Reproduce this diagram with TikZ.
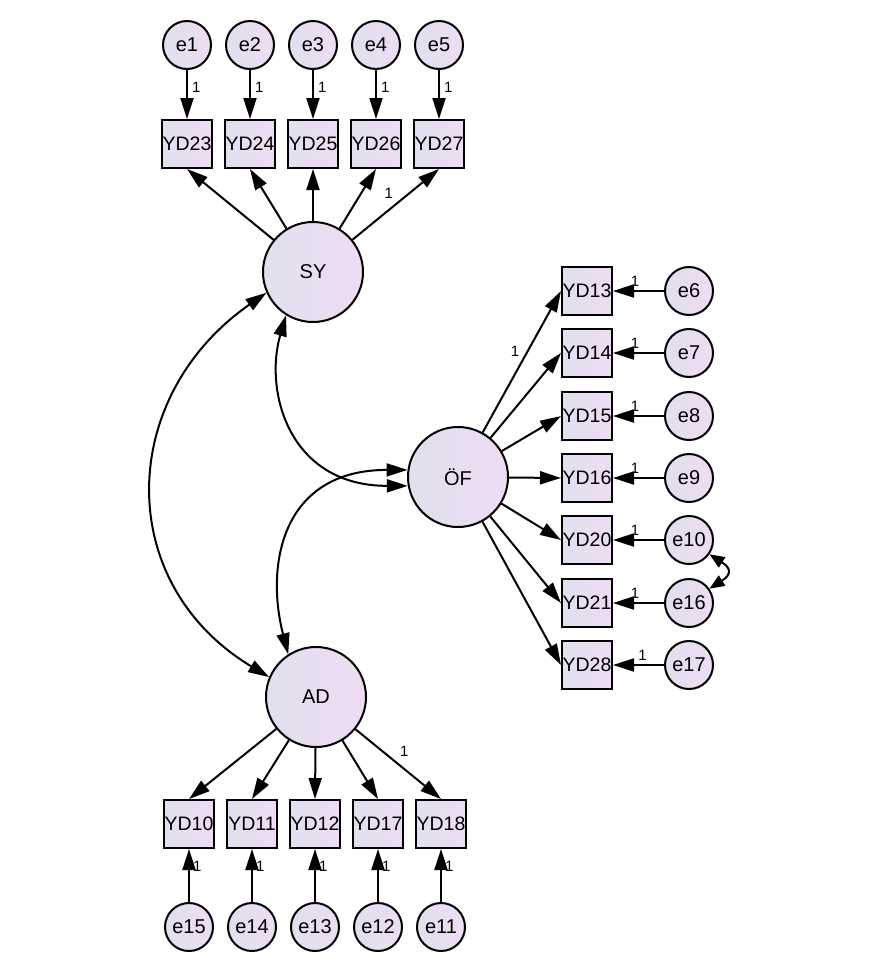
\documentclass[tikz,border=0pt]{standalone}
\usepackage{fontspec}
\setmainfont{Liberation Sans}
\usetikzlibrary{arrows.meta}
\definecolor{lavL}{RGB}{224,224,238}
\definecolor{lavR}{RGB}{238,220,243}
\tikzset{
  latent/.style={circle,draw,line width=2pt,minimum size=100pt,inner sep=0pt,left color=lavL,right color=lavR,font=\fontsize{20}{20}\selectfont},
  errvar/.style={circle,draw,line width=2pt,minimum size=48pt,inner sep=0pt,left color=lavL,right color=lavR,font=\fontsize{20}{20}\selectfont},
  indic/.style={rectangle,draw,line width=2pt,minimum width=50pt,minimum height=48pt,inner sep=0pt,left color=lavL,right color=lavR,font=\fontsize{19.5}{19.5}\selectfont},
  load/.style={line width=2pt,-{Triangle[length=21pt,width=13pt]}},
  cov/.style={line width=2pt,{Triangle[length=21pt,width=13pt]}-{Triangle[length=21pt,width=13pt]}},
  one/.style={font=\fontsize{15}{15}\selectfont,inner sep=1pt}
}
\begin{document}
\begin{tikzpicture}[x=1pt,y=-1pt]
      \useasboundingbox (0,0) rectangle (875,978);
      % latent factors
      \node[latent] (SY) at (313,272) {SY};
      \node[latent] (OF) at (458,477) {ÖF};
      \node[latent] (AD) at (316,697) {AD};
      % routine for SY items
      \node[indic] (YD23) at (187,144) {YD23};
      \node[indic] (YD24) at (250,144) {YD24};
      \node[indic] (YD25) at (313,144) {YD25};
      \node[indic] (YD26) at (376,144) {YD26};
      \node[indic] (YD27) at (439,144) {YD27};
      \node[errvar] (e1) at (187,45) {e1};
      \node[errvar] (e2) at (250,45) {e2};
      \node[errvar] (e3) at (313,45) {e3};
      \node[errvar] (e4) at (376,45) {e4};
      \node[errvar] (e5) at (439,45) {e5};
      % routine for OF items
      \node[indic] (YD13) at (587,291) {YD13};
      \node[indic] (YD14) at (587,353) {YD14};
      \node[indic] (YD15) at (587,416) {YD15};
      \node[indic] (YD16) at (587,478) {YD16};
      \node[indic] (YD20) at (587,540) {YD20};
      \node[indic] (YD21) at (587,603) {YD21};
      \node[indic] (YD28) at (587,665) {YD28};
      \node[errvar] (e6) at (689,291) {e6};
      \node[errvar] (e7) at (689,353) {e7};
      \node[errvar] (e8) at (689,416) {e8};
      \node[errvar] (e9) at (689,478) {e9};
      \node[errvar] (e10) at (689,540) {e10};
      \node[errvar] (e16) at (689,603) {e16};
      \node[errvar] (e17) at (689,665) {e17};
      % routine for AD items
      \node[indic] (YD10) at (189,824) {YD10};
      \node[indic] (YD11) at (252,824) {YD11};
      \node[indic] (YD12) at (315,824) {YD12};
      \node[indic] (YD17) at (378,824) {YD17};
      \node[indic] (YD18) at (441,824) {YD18};
      \node[errvar] (e15) at (189,927) {e15};
      \node[errvar] (e14) at (252,927) {e14};
      \node[errvar] (e13) at (315,927) {e13};
      \node[errvar] (e12) at (378,927) {e12};
      \node[errvar] (e11) at (441,927) {e11};
      % loadings
      \draw[load] (SY) -- (YD23.south);
      \draw[load] (SY) -- (YD24.south);
      \draw[load] (SY) -- (YD25.south);
      \draw[load] (SY) -- (YD26.south);
      \draw[load] (SY) -- (YD27.south) node[one,pos=0.42,above=10pt] {1};
      \draw[load] (OF) -- (YD13.west) node[one,pos=0.57,left=6pt] {1};
      \draw[load] (OF) -- (YD14.west);
      \draw[load] (OF) -- (YD15.west);
      \draw[load] (OF) -- (YD16.west);
      \draw[load] (OF) -- (YD20.west);
      \draw[load] (OF) -- (YD21.west);
      \draw[load] (OF) -- (YD28.west);
      \draw[load] (AD) -- (YD10.north);
      \draw[load] (AD) -- (YD11.north);
      \draw[load] (AD) -- (YD12.north);
      \draw[load] (AD) -- (YD17.north);
      \draw[load] (AD) -- (YD18.north) node[one,pos=0.57,above=11pt] {1};
      % error terms
      \draw[load] (e1) -- (YD23) node[one,pos=0.35,right=3pt] {1};
      \draw[load] (e2) -- (YD24) node[one,pos=0.35,right=3pt] {1};
      \draw[load] (e3) -- (YD25) node[one,pos=0.35,right=3pt] {1};
      \draw[load] (e4) -- (YD26) node[one,pos=0.35,right=3pt] {1};
      \draw[load] (e5) -- (YD27) node[one,pos=0.35,right=3pt] {1};
      \draw[load] (e6) -- (YD13) node[one,pos=0.57,above=3pt] {1};
      \draw[load] (e7) -- (YD14) node[one,pos=0.57,above=3pt] {1};
      \draw[load] (e8) -- (YD15) node[one,pos=0.57,above=3pt] {1};
      \draw[load] (e9) -- (YD16) node[one,pos=0.57,above=3pt] {1};
      \draw[load] (e10) -- (YD20) node[one,pos=0.57,above=3pt] {1};
      \draw[load] (e16) -- (YD21) node[one,pos=0.57,above=3pt] {1};
      \draw[load] (e17) -- (YD28) node[one,pos=0.42,above=3pt] {1};
      \draw[load] (e15) -- (YD10) node[one,pos=0.67,right=2pt] {1};
      \draw[load] (e14) -- (YD11) node[one,pos=0.67,right=2pt] {1};
      \draw[load] (e13) -- (YD12) node[one,pos=0.67,right=2pt] {1};
      \draw[load] (e12) -- (YD17) node[one,pos=0.67,right=2pt] {1};
      \draw[load] (e11) -- (YD18) node[one,pos=0.67,right=2pt] {1};
      % covariances
      \draw[cov] (SY.204) .. controls +(-149,104) and +(-156,-94) .. (AD.157);
      \draw[cov] (SY.238) .. controls +(-22,76) and +(-119,0) .. (OF.190);
      \draw[cov] (OF.172) .. controls +(-126,0) and +(-23,-89) .. (AD.123);
      \draw[line width=2pt,{Triangle[length=15pt,width=12pt]}-{Triangle[length=15pt,width=12pt]}] (e10.-35) .. controls +(22,14) and +(22,-14) .. (e16.35);
    \end{tikzpicture}
\end{document}
